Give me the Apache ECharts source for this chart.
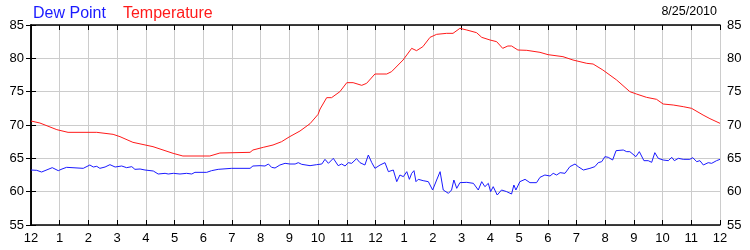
<!DOCTYPE html>
<html>
<head>
<meta charset="utf-8">
<script src="https://cdn.jsdelivr.net/npm/echarts@6/dist/echarts.min.js"></script>
<style>
html,body{margin:0;padding:0;background:#fff;}
#chart{width:750px;height:250px;}
</style>
</head>
<body>
<div id="chart"></div>
<script>
// Hour labels for the x axis (0..24 hours from midnight)
var hourLabels = ['12','1','2','3','4','5','6','7','8','9','10','11','12','1','2','3','4','5','6','7','8','9','10','11','12'];
var dateLabel = '8/25/2010';
var seriesNames = ['Dew Point', 'Temperature'];

// Temperature (hours since midnight, °F)
var tempHours = [0.00,0.31,0.90,1.29,2.29,2.86,3.10,3.55,4.25,4.95,5.29,6.23,6.58,7.63,7.73,8.09,8.43,8.73,8.99,9.37,9.72,10.00,10.07,10.30,10.47,10.76,11.00,11.22,11.52,11.69,11.98,12.39,12.56,12.96,13.26,13.43,13.65,13.90,14.13,14.48,14.70,14.94,15.18,15.52,15.70,15.99,16.22,16.43,16.61,16.74,16.96,17.27,17.73,18.01,18.53,18.88,19.36,19.58,19.92,20.40,20.86,21.09,21.44,21.79,22.02,22.37,22.72,23.01,23.41,23.65,24.00];
var tempValues = [70.6,70.3,69.3,68.9,68.9,68.6,68.25,67.4,66.75,65.75,65.35,65.35,65.8,65.9,66.25,66.65,67.0,67.5,68.2,69.1,70.2,71.6,72.4,74.1,74.1,75.0,76.35,76.35,75.95,76.25,77.65,77.65,78.0,79.75,81.5,81.15,81.75,83.15,83.6,83.75,83.75,84.5,84.25,83.85,83.15,82.75,82.5,81.5,81.85,81.85,81.25,81.2,80.9,80.55,80.25,79.75,79.25,79.15,78.25,76.75,75.0,74.65,74.15,73.85,73.15,73.0,72.75,72.5,71.5,70.95,70.25];

// Dew point (hours since midnight, °F)
var dewHours = [0.00,0.20,0.37,0.74,0.95,1.08,1.24,1.82,2.05,2.17,2.29,2.40,2.58,2.75,2.93,3.16,3.33,3.51,3.62,3.80,3.97,4.26,4.43,4.67,4.78,4.96,5.19,5.42,5.48,5.60,5.71,6.12,6.29,6.52,6.99,7.63,7.73,7.98,8.04,8.15,8.27,8.38,8.50,8.67,8.85,9.02,9.08,9.20,9.31,9.43,9.72,9.95,10.13,10.24,10.36,10.53,10.70,10.82,10.94,11.05,11.17,11.34,11.46,11.52,11.63,11.75,11.87,11.98,12.16,12.33,12.45,12.62,12.74,12.85,12.97,13.09,13.18,13.26,13.34,13.41,13.49,13.66,13.84,13.99,14.13,14.25,14.36,14.54,14.65,14.73,14.83,14.94,15.18,15.41,15.58,15.70,15.81,15.93,16.01,16.10,16.24,16.39,16.57,16.74,16.82,16.89,17.03,17.21,17.38,17.61,17.73,17.90,18.08,18.19,18.31,18.43,18.60,18.77,18.95,19.06,19.24,19.47,19.64,19.76,19.88,19.99,20.11,20.26,20.38,20.63,20.75,20.86,21.07,21.19,21.35,21.50,21.62,21.73,21.85,22.02,22.20,22.32,22.41,22.55,22.72,22.95,23.05,23.19,23.30,23.42,23.59,23.71,23.88,24.00];
var dewValues = [63.25,63.2,62.95,63.6,63.15,63.4,63.65,63.5,64.0,63.7,63.8,63.5,63.7,64.05,63.7,63.85,63.6,63.75,63.35,63.4,63.25,63.1,62.65,62.75,62.65,62.75,62.65,62.75,62.9,62.65,62.9,62.9,63.15,63.35,63.5,63.5,63.85,63.9,64.1,63.85,64.15,63.65,63.55,64.0,64.25,64.15,64.35,64.15,64.35,64.1,63.9,64.05,64.15,64.85,64.25,65.0,63.9,64.15,63.85,64.35,64.25,64.95,64.35,64.65,64.0,65.5,64.35,63.5,64.0,64.35,63.0,63.25,61.5,62.5,62.25,63.0,61.85,62.75,63.15,61.5,61.85,61.65,61.5,60.25,61.75,63.0,60.25,59.75,60.25,61.75,60.5,61.35,61.4,61.25,60.25,61.5,60.75,61.25,60.0,60.75,59.5,60.25,60.0,59.65,61.0,60.25,61.5,61.85,61.35,61.35,62.15,62.5,62.35,62.75,62.5,62.85,62.75,63.75,64.15,63.75,63.25,63.5,63.75,64.35,64.5,65.25,65.15,64.75,66.15,66.25,66.0,66.0,65.25,66.0,64.65,64.65,64.4,65.85,65.0,64.75,64.65,65.15,64.65,65.0,64.85,64.85,65.1,64.5,64.65,64.0,64.35,64.25,64.65,64.85];

function pairs(xs, ys){ return xs.map(function(x,i){ return [x, ys[i]]; }); }

var chart = echarts.init(document.getElementById('chart'), null, {renderer:'canvas'});
var FONT = 'Liberation Sans, Arial, sans-serif';
var axisLine = {show:true, lineStyle:{color:'#000', width:1.5}};
var tick = {show:true, inside:true, length:5, lineStyle:{color:'#000', width:1}};
var grid = {show:true, lineStyle:{color:'#cccccc', width:1}};

chart.setOption({
  animation:false,
  backgroundColor:'#fff',
  grid:{left:31, right:30, top:25, bottom:25, containLabel:false},
  legend:{
    left:23, top:1, icon:'none', itemWidth:0, itemHeight:0, itemGap:12,
    selectedMode:false,
    textStyle:{fontFamily:FONT, fontSize:16},
    data:[
      {name:seriesNames[0], textStyle:{color:'#1a1aff'}},
      {name:seriesNames[1], textStyle:{color:'#ff1a1a'}}
    ]
  },
  graphic:[{
    type:'text', right:33, top:5,
    style:{text:dateLabel, fill:'#000', font:'12.5px ' + FONT}
  }],
  xAxis:[
    {type:'value', position:'bottom', min:0, max:24, interval:1,
     axisLine:axisLine, axisTick:tick, splitLine:grid,
     axisLabel:{show:true, margin:7, color:'#000', fontFamily:FONT, fontSize:13,
       formatter:function(v){ return hourLabels[Math.round(v)]; }}},
    {type:'value', position:'top', min:0, max:24, interval:1,
     axisLine:axisLine, axisTick:tick, splitLine:{show:false}, axisLabel:{show:false}}
  ],
  yAxis:[
    {type:'value', position:'left', min:55, max:85, interval:5,
     axisLine:axisLine, axisTick:tick, splitLine:grid,
     axisLabel:{show:true, margin:7, color:'#000', fontFamily:FONT, fontSize:13}},
    {type:'value', position:'right', min:55, max:85, interval:5,
     axisLine:axisLine, axisTick:tick, splitLine:{show:false},
     axisLabel:{show:true, margin:7, color:'#000', fontFamily:FONT, fontSize:13}}
  ],
  series:[
    {name:seriesNames[0], type:'line', data:pairs(dewHours, dewValues), showSymbol:false,
     symbol:'none', lineStyle:{color:'#1a1aff', width:1}, itemStyle:{color:'#1a1aff'}, z:3},
    {name:seriesNames[1], type:'line', data:pairs(tempHours, tempValues), showSymbol:false,
     symbol:'none', lineStyle:{color:'#ff1a1a', width:1}, itemStyle:{color:'#ff1a1a'}, z:4}
  ]
});
</script>
</body>
</html>
